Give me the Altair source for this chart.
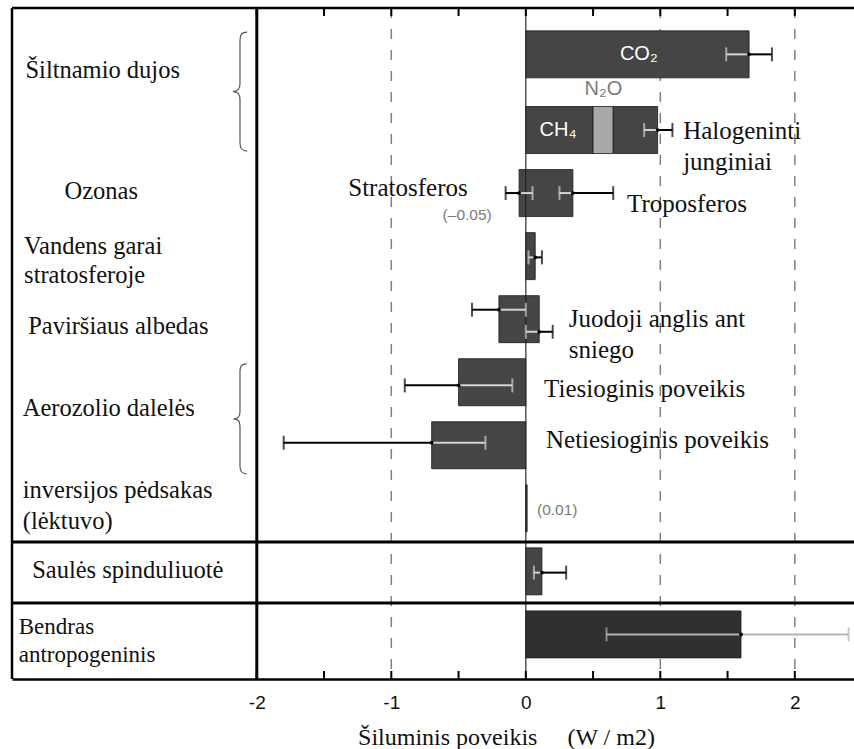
import altair as alt
import pandas as pd

NB = "\u00a0"
SERIF = "Liberation Serif"
SANS = "Liberation Sans"

# ---------------- data ----------------
bar_names = ["CO2", "CH4", "N2O", "Halogeninti junginiai", "Stratosferos ozonas", "Troposferos ozonas",
             "Vandens garai", "Žemės naudojimas", "Juodoji anglis ant sniego", "Tiesioginis poveikis",
             "Netiesioginis poveikis", "Inversijos pėdsakas", "Saulės spinduliuotė", "Bendras antropogeninis"]
bar_start = [0, 0, 0.50, 0.65, -0.05, 0, 0, -0.2, 0, -0.5, -0.7, 0, 0, 0]
bar_end = [1.66, 0.50, 0.65, 0.98, 0, 0.35, 0.07, 0, 0.1, 0, 0, 0.01, 0.12, 1.6]
bar_row = [0, 1.2, 1.2, 1.2, 2.2, 2.2, 3.2, 4.2, 4.2, 5.2, 6.2, 7.2, 8.2, 9.2]
bar_shade = ["dark", "dark", "light", "dark", "dark", "dark", "dark", "dark", "dark", "dark",
             "dark", "dark", "dark", "total"]

err_row = [0, 1.2, 2.2, 2.2, 3.2, 4.2, 4.2, 5.2, 6.2, 8.2, 9.2]
err_y = [0, 1.2, 2.2, 2.2, 3.22, 4.05, 4.4, 5.25, 6.16, 8.22, 9.2]
err_lo = [1.49, 0.88, -0.15, 0.25, 0.02, -0.4, 0.0, -0.9, -1.8, 0.06, 0.6]
err_hi = [1.83, 1.09, 0.05, 0.65, 0.12, 0.0, 0.2, -0.1, -0.3, 0.30, 2.4]
err_mid = [1.66, 0.98, -0.05, 0.35, 0.07, -0.2, 0.1, -0.5, -0.7, 0.12, 1.6]
err_outside = ["#000000"] * 10 + ["#b4b4b4"]

tick_values = [-2, -1.5, -1, -0.5, 0, 0.5, 1, 1.5, 2]
grid_values = [-1, 1, 2]
divider_rows = [7.734, 8.703]

left_labels = ["Šiltnamio dujos", "Ozonas", "Vandens garai\nstratosferoje", "Paviršiaus albedas",
               "Aerozolio dalelės", "inversijos pėdsakas\n(lėktuvo)", "Saulės spinduliuotė"]
left_x = [-3.72, -3.43, -3.73, -3.70, -3.74, -3.74, -3.67]
left_y = [0.26, 2.19, 3.05, 4.33, 5.63, 6.92, 8.2]
left_fs = [24.5, 24.5, 24.5, 24.5, 24.5, 24.5, 24.5]
left_lh = [29, 29, 29, 29, 29, 31, 29]

total_label = "Bendras\n" + NB + "antropogeninis"
total_x = -3.77
total_y = 9.09

note_labels = ["Halogeninti\njunginiai", "Stratosferos", "Troposferos", "Juodoji anglis ant\nsniego",
               "Tiesioginis poveikis", "Netiesioginis poveikis"]
note_x = [1.17, -1.32, 0.753, 0.32, 0.136, 0.15]
note_y = [1.22, 2.12, 2.37, 4.20, 5.31, 6.11]

inbar_labels = ["CO₂", "CH₄"]
inbar_x = [0.84, 0.24]
inbar_y = [0.0, 1.2]

small_labels = ["N₂O", "(–0.05)", "(0.01)"]
small_x = [0.577, -0.436, 0.083]
small_y = [0.55, 2.55, 7.23]
small_fs = [20, 15.5, 15.5]
small_align = ["center", "center", "left"]

brace_x = [-2.125, -2.125]
brace_y = [0.59, 5.78]
brace_h = [119, 110]

# ---------------- tables ----------------
bars = pd.DataFrame({"name": bar_names, "start": bar_start, "end": bar_end,
                     "row": bar_row, "shade": bar_shade})
ext = bars.groupby("row").agg(bmin=("start", "min"), bmax=("end", "max"))

INNER = "#d2d2d2"
segs, caps = [], []
for r, y, lo, hi, oc in zip(err_row, err_y, err_lo, err_hi, err_outside):
    bmin, bmax = ext.loc[r, "bmin"], ext.loc[r, "bmax"]
    inner_col = INNER if oc == "#000000" else oc
    ilo, ihi = max(lo, bmin), min(hi, bmax)
    if ihi > ilo:
        segs.append({"lo": ilo, "hi": ihi, "y": y, "col": inner_col})
    if lo < bmin:
        segs.append({"lo": lo, "hi": min(hi, bmin), "y": y, "col": oc})
    if hi > bmax:
        segs.append({"lo": max(lo, bmax), "hi": hi, "y": y, "col": oc})
    for v in (lo, hi):
        caps.append({"x": v, "y": y, "col": inner_col if bmin <= v <= bmax else oc})
segs = pd.DataFrame(segs)
caps = pd.DataFrame(caps)
dots = pd.DataFrame({"x": err_mid, "y": err_y})

W, H = 842, 671
xscale = alt.Scale(domain=[-3.82, 2.44], nice=False, zero=False)
yscale = alt.Scale(domain=[-0.656, 9.828], reverse=True, nice=False, zero=False)
xaxis = alt.Axis(values=[-2, -1, 0, 1, 2], ticks=False, grid=False, domainColor="black",
                 domainWidth=2.5, labelFont=SANS, labelFontSize=19, labelColor="#111",
                 labelPadding=14, labelExpr="replace(datum.label, '−', '-')",
                 title="Šiluminis poveikis" + NB * 5 + "(W / m2)", titleFont=SERIF,
                 titleFontSize=24, titleFontWeight="normal", titleColor="#111",
                 titleX=494, titleY=58, titleBaseline="middle", titleAnchor="middle", titleAlign="center")


def X(f):
    return alt.X(f, type="quantitative", scale=xscale, axis=xaxis)


def Y(f):
    return alt.Y(f, type="quantitative", scale=yscale, axis=None)


dummy = pd.DataFrame({"a": [0]})

grid = alt.Chart(pd.DataFrame({"x": grid_values})).mark_rule(
    color="#808080", strokeDash=[10, 11], strokeWidth=1.5).encode(
    x=X("x"), y=alt.value(0), y2=alt.value(H))
zero = alt.Chart(pd.DataFrame({"x": [0]})).mark_rule(color="#555", strokeWidth=1.5).encode(
    x=X("x"), y=alt.value(0), y2=alt.value(H))

bar_layer = alt.Chart(bars).mark_bar(size=47, stroke="#1a1a1a", strokeWidth=0.8).encode(
    x=X("start"), x2="end", y=Y("row"),
    color=alt.Color("shade:N", scale=alt.Scale(domain=["dark", "light", "total"],
                                               range=["#454545", "#a9a9a9", "#303030"]), legend=None))

seg_layer = alt.Chart(segs).mark_rule(strokeWidth=2).encode(
    x=X("lo"), x2="hi", y=Y("y"), color=alt.Color("col:N", scale=None))
cap_layer = alt.Chart(caps).mark_tick(orient="vertical", size=14, thickness=2).encode(
    x=X("x"), y=Y("y"), color=alt.Color("col:N", scale=None))
dot_layer = alt.Chart(dots).mark_circle(size=14, color="black", opacity=1).encode(x=X("x"), y=Y("y"))

left_layers = []
for lh in sorted(set(left_lh)):
    d = pd.DataFrame({"t": left_labels, "x": left_x, "y": left_y, "fs": left_fs, "lh": left_lh})
    d = d[d["lh"] == lh]
    left_layers.append(alt.Chart(d).mark_text(font=SERIF, align="left", baseline="middle",
                                              lineBreak="\n", lineHeight=lh, color="#111").encode(
        x=X("x"), y=Y("y"), text="t:N", size=alt.Size("fs:Q", scale=None)))

total_layer = alt.Chart(pd.DataFrame({"t": [total_label], "x": [total_x], "y": [total_y]})).mark_text(
    font=SERIF, fontSize=23, align="left", baseline="middle", lineBreak="\n", lineHeight=28,
    color="#111").encode(x=X("x"), y=Y("y"), text="t:N")

note_df = pd.DataFrame({"t": note_labels, "x": note_x, "y": note_y})
note_layer = alt.Chart(note_df).mark_text(font=SERIF, fontSize=25, align="left", baseline="middle",
                                          lineBreak="\n", lineHeight=31, color="#111").encode(
    x=X("x"), y=Y("y"), text="t:N")

inbar_layer = alt.Chart(pd.DataFrame({"t": inbar_labels, "x": inbar_x, "y": inbar_y})).mark_text(
    font=SANS, fontSize=20, align="center", baseline="middle", color="white").encode(
    x=X("x"), y=Y("y"), text="t:N")

small_layers = []
for al in ["center", "left"]:
    d = pd.DataFrame({"t": small_labels, "x": small_x, "y": small_y, "fs": small_fs, "al": small_align})
    d = d[d["al"] == al]
    small_layers.append(alt.Chart(d).mark_text(font=SANS, align=al, baseline="middle", color="#7a7a7a").encode(
        x=X("x"), y=Y("y"), text="t:N", size=alt.Size("fs:Q", scale=None)))

BRACE = ("M 0.12 -1 C 0.03 -1 0 -0.96 0 -0.86 L 0 -0.13 C 0 -0.04 -0.04 0 -0.12 0 "
         "C -0.04 0 0 0.04 0 0.13 L 0 0.86 C 0 0.96 0.03 1 0.12 1")
brace_df = pd.DataFrame({"x": brace_x, "y": brace_y, "s": [h * h for h in brace_h]})
brace_layer = alt.Chart(brace_df).mark_point(shape=BRACE, filled=False, color="#555",
                                             strokeWidth=1.2, opacity=1).encode(
    x=X("x"), y=Y("y"), size=alt.Size("s:Q", scale=None))

frame_top = alt.Chart(dummy).mark_rule(color="black", strokeWidth=2.5).encode(
    x=alt.value(0), x2=alt.value(W), y=alt.value(0))
frame_left = alt.Chart(dummy).mark_rule(color="black", strokeWidth=2.5).encode(
    x=alt.value(0), y=alt.value(0), y2=alt.value(H))
axis_line = alt.Chart(pd.DataFrame({"x": [-2]})).mark_rule(color="black", strokeWidth=3).encode(
    x=X("x"), y=alt.value(0), y2=alt.value(H))
dividers = alt.Chart(pd.DataFrame({"y": divider_rows})).mark_rule(color="black", strokeWidth=3).encode(
    y=Y("y"), x=alt.value(0), x2=alt.value(W))

tdf = pd.DataFrame({"x": tick_values})
ticks_bottom = alt.Chart(tdf).mark_rule(color="black", strokeWidth=2).encode(
    x=X("x"), y=alt.value(H), y2=alt.value(H - 8))
ticks_top = alt.Chart(tdf).mark_rule(color="black", strokeWidth=2).encode(
    x=X("x"), y=alt.value(0), y2=alt.value(8))

chart = alt.layer(
    grid, zero, bar_layer, seg_layer, cap_layer, dot_layer, *left_layers, total_layer, note_layer,
    inbar_layer, *small_layers, brace_layer, frame_top, frame_left, axis_line, dividers,
    ticks_bottom, ticks_top
).properties(
    width=W, height=H, padding={"left": 12, "top": 8, "right": 0, "bottom": 70}, background="white",
    autosize=alt.AutoSizeParams(type="none")
).configure_view(stroke=None)

chart.save("out.html", embed_options={"renderer": "svg", "actions": False})
